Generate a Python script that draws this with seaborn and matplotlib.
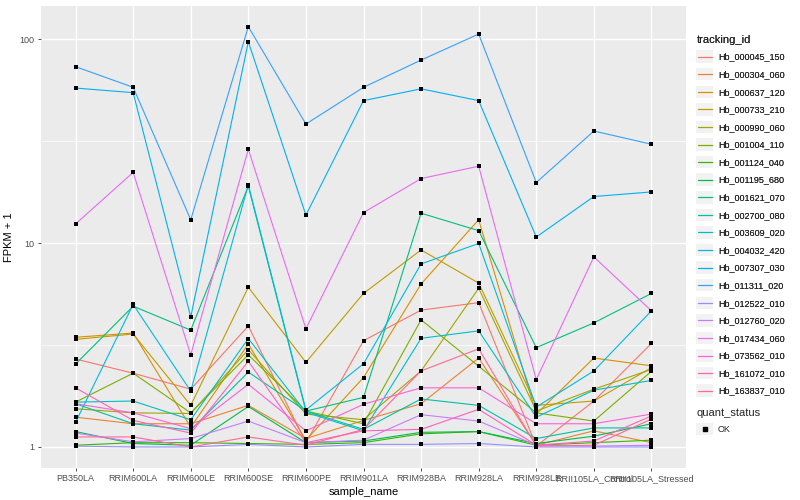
import numpy as np
import pandas as pd
import matplotlib
matplotlib.use("Agg")
import matplotlib.pyplot as plt
from matplotlib.lines import Line2D
from matplotlib.patches import Rectangle
from matplotlib.legend_handler import HandlerBase
import seaborn as sns

samples = ["PB350LA", "RRIM600LA", "RRIM600LE", "RRIM600SE", "RRIM600PE", "RRIM901LA",
           "RRIM928BA", "RRIM928LA", "RRIM928LE", "RRII105LA_Control", "RRII105LA_Stressed"]

tracking_ids = ["Hb_000045_150", "Hb_000304_060", "Hb_000637_120", "Hb_000733_210",
                "Hb_000990_060", "Hb_001004_110", "Hb_001124_040", "Hb_001195_680",
                "Hb_001621_070", "Hb_002700_080", "Hb_003609_020", "Hb_004032_420",
                "Hb_007307_030", "Hb_011311_020", "Hb_012522_010", "Hb_012760_020",
                "Hb_017434_060", "Hb_073562_010", "Hb_161072_010", "Hb_163837_010"]

hb_000045_150 = [2.70, 2.30, 1.92, 3.92, 1.05, 3.32, 4.69, 5.10, 1.01, 1.68, 3.22]
hb_000304_060 = [1.40, 1.30, 1.30, 1.60, 1.10, 1.35, 1.63, 2.73, 1.02, 1.20, 1.05]
hb_000637_120 = [3.45, 3.62, 1.25, 3.20, 1.08, 2.19, 6.30, 13.0, 1.45, 2.73, 2.50]
hb_000733_210 = [3.37, 3.58, 1.60, 6.07, 2.60, 5.66, 9.25, 6.36, 1.60, 1.68, 2.45]
hb_000990_060 = [1.54, 1.47, 1.46, 3.00, 1.45, 1.36, 2.36, 6.00, 1.50, 1.92, 2.40]
hb_001004_110 = [1.66, 2.30, 1.47, 2.83, 1.50, 1.30, 4.20, 2.49, 1.47, 1.34, 2.35]
hb_001124_040 = [1.02, 1.05, 1.05, 1.04, 1.03, 1.05, 1.16, 1.19, 1.02, 1.05, 1.08]
hb_001195_680 = [1.19, 1.04, 1.02, 1.58, 1.05, 1.07, 1.18, 1.19, 1.04, 1.13, 1.30]
hb_001621_070 = [2.55, 4.90, 3.74, 19.0, 1.50, 1.75, 14.0, 11.5, 3.07, 4.06, 5.66]
hb_002700_080 = [1.63, 1.30, 1.21, 2.33, 1.50, 1.22, 1.72, 1.60, 1.10, 1.24, 1.24]
hb_003609_020 = [1.66, 1.68, 1.36, 3.40, 1.48, 1.20, 3.41, 3.71, 1.40, 1.90, 2.12]
hb_004032_420 = [1.32, 5.00, 1.88, 19.3, 1.52, 2.56, 7.90, 9.95, 1.57, 2.36, 4.65]
hb_007307_030 = [57.5, 54.6, 4.34, 97.0, 13.7, 49.9, 57.0, 49.9, 10.7, 16.9, 17.8]
hb_011311_020 = [73.2, 58.0, 13.0, 115.0, 38.3, 58.0, 78.9, 105.8, 19.8, 35.4, 30.5]
hb_012522_010 = [1.01, 1.00, 1.00, 1.03, 1.00, 1.03, 1.03, 1.04, 1.00, 1.00, 1.00]
hb_012760_020 = [1.17, 1.06, 1.10, 1.34, 1.05, 1.08, 1.44, 1.34, 1.02, 1.01, 1.02]
hb_017434_060 = [12.4, 22.2, 2.83, 28.8, 3.80, 14.1, 20.7, 23.8, 2.14, 8.55, 4.65]
hb_073562_010 = [1.63, 1.47, 1.23, 2.03, 1.20, 1.62, 1.95, 1.95, 1.30, 1.30, 1.45]
hb_161072_010 = [1.95, 1.35, 1.17, 2.63, 1.05, 1.20, 1.22, 1.53, 1.02, 1.07, 1.42]
hb_163837_010 = [1.12, 1.12, 1.00, 1.12, 1.02, 1.22, 2.36, 3.03, 1.01, 1.02, 1.37]

series_values = [hb_000045_150, hb_000304_060, hb_000637_120, hb_000733_210, hb_000990_060,
                 hb_001004_110, hb_001124_040, hb_001195_680, hb_001621_070, hb_002700_080,
                 hb_003609_020, hb_004032_420, hb_007307_030, hb_011311_020, hb_012522_010,
                 hb_012760_020, hb_017434_060, hb_073562_010, hb_161072_010, hb_163837_010]

quant_status = "OK"

rows = []
for tid, vals in zip(tracking_ids, series_values):
    for s, v in zip(samples, vals):
        rows.append({"tracking_id": tid, "sample_name": s, "FPKM + 1": v, "quant_status": quant_status})
df = pd.DataFrame(rows)


def hcl_hex(h, c=100.0, l=65.0):
    hr = np.deg2rad(h)
    U, V = c * np.cos(hr), c * np.sin(hr)
    L = l
    Y = ((L + 16) / 116) ** 3 if L > 8 else L / 903.3
    Xn, Yn, Zn = 0.95047, 1.0, 1.08883
    den = Xn + 15 * Yn + 3 * Zn
    un, vn = 4 * Xn / den, 9 * Yn / den
    up = U / (13 * L) + un
    vp = V / (13 * L) + vn
    X = Y * 9 * up / (4 * vp)
    Z = Y * (12 - 3 * up - 20 * vp) / (4 * vp)
    M = np.array([[3.240479, -1.537150, -0.498535],
                  [-0.969256, 1.875992, 0.041556],
                  [0.055648, -0.204043, 1.057311]])
    rgb = M @ np.array([X, Y, Z])
    out = []
    for ch in rgb:
        ch = 1.055 * ch ** (1 / 2.4) - 0.055 if ch > 0.0031308 else 12.92 * ch
        out.append(min(max(ch, 0), 1))
    return tuple(out)


n = len(tracking_ids)
hues = np.linspace(15, 375, n + 1)[:n]
palette = {tid: hcl_hex(h) for tid, h in zip(tracking_ids, hues)}

sns.set_theme(style="darkgrid")
plt.rcParams["font.family"] = ["Liberation Sans", "DejaVu Sans"]
plt.rcParams["axes.facecolor"] = "#EBEBEB"

fig = plt.figure(figsize=(8, 5), dpi=100)
ax = fig.add_axes([41 / 800, 1 - 468 / 500, 645 / 800, 462 / 500])
ax.set_facecolor("#EBEBEB")

sns.lineplot(data=df, x="sample_name", y="FPKM + 1", hue="tracking_id", palette=palette,
             hue_order=tracking_ids, sort=False, linewidth=0.8, legend=False, ax=ax,
             estimator=None)
sns.scatterplot(data=df, x="sample_name", y="FPKM + 1", color="black", marker="s", s=9,
                linewidth=0, legend=False, ax=ax, zorder=5)

ax.set_yscale("log")
ax.set_ylim(10 ** -0.103, 10 ** 2.162)
ax.set_xlim(-0.6, len(samples) - 1 + 0.6)
ax.set_yticks([1, 10, 100])
ax.set_yticklabels(["1", "10", "100"])
ax.set_yticks([10 ** 0.5, 10 ** 1.5], minor=True)
ax.yaxis.set_minor_formatter(matplotlib.ticker.NullFormatter())
ax.set_xticks(range(len(samples)))
ax.set_xticklabels(samples)

ax.grid(which="major", color="white", linewidth=1.0)
ax.grid(which="minor", axis="y", color="white", linewidth=0.5)
ax.tick_params(axis="both", which="major", length=2.5, width=0.6, color="#333333",
               labelsize=6.5, labelcolor="#4D4D4D", pad=2, bottom=True, left=True)
ax.tick_params(axis="y", which="minor", length=0)
for sp in ax.spines.values():
    sp.set_visible(False)

ax.set_xlabel("sample_name", fontsize=8, color="black", labelpad=3)
ax.set_ylabel("FPKM + 1", fontsize=8, color="black", labelpad=4)


class KeyHandler(HandlerBase):
    def __init__(self, kind="line"):
        super().__init__()
        self.kind = kind

    def create_artists(self, legend, orig_handle, xdescent, ydescent, width, height, fontsize, trans):
        rect = Rectangle((-xdescent, -ydescent), width, height, facecolor="#F2F2F2",
                         edgecolor="none", transform=trans)
        cy = -ydescent + height / 2
        if self.kind == "line":
            art = Line2D([-xdescent + width * 0.1, -xdescent + width * 0.9], [cy, cy],
                         color=orig_handle.get_color(), linewidth=0.9, transform=trans)
        else:
            art = Line2D([-xdescent + width / 2], [cy], marker="s", markersize=3,
                         color="black", linestyle="none", transform=trans)
        return [rect, art]


line_handles = [Line2D([], [], color=palette[t]) for t in tracking_ids]
leg1 = fig.legend(line_handles, tracking_ids, title="tracking_id", loc="upper left",
                  bbox_to_anchor=(690 / 800, 1 - 29 / 500), frameon=False, fontsize=6.5,
                  title_fontsize=8, handlelength=1.9, handleheight=1.75, labelspacing=0.565,
                  handletextpad=0.5, borderpad=0.2, alignment="left",
                  handler_map={Line2D: KeyHandler("line")})
fig.add_artist(leg1)

pt_handle = [Rectangle((0, 0), 1, 1)]
leg2 = fig.legend(pt_handle, [quant_status], title="quant_status", loc="upper left",
                  bbox_to_anchor=(690 / 800, 1 - 402 / 500), frameon=False, fontsize=6.5,
                  title_fontsize=8, handlelength=1.9, handleheight=1.75,
                  handletextpad=0.5, borderpad=0.2, alignment="left",
                  handler_map={Rectangle: KeyHandler("point")})

fig.savefig("out.png", dpi=100)
